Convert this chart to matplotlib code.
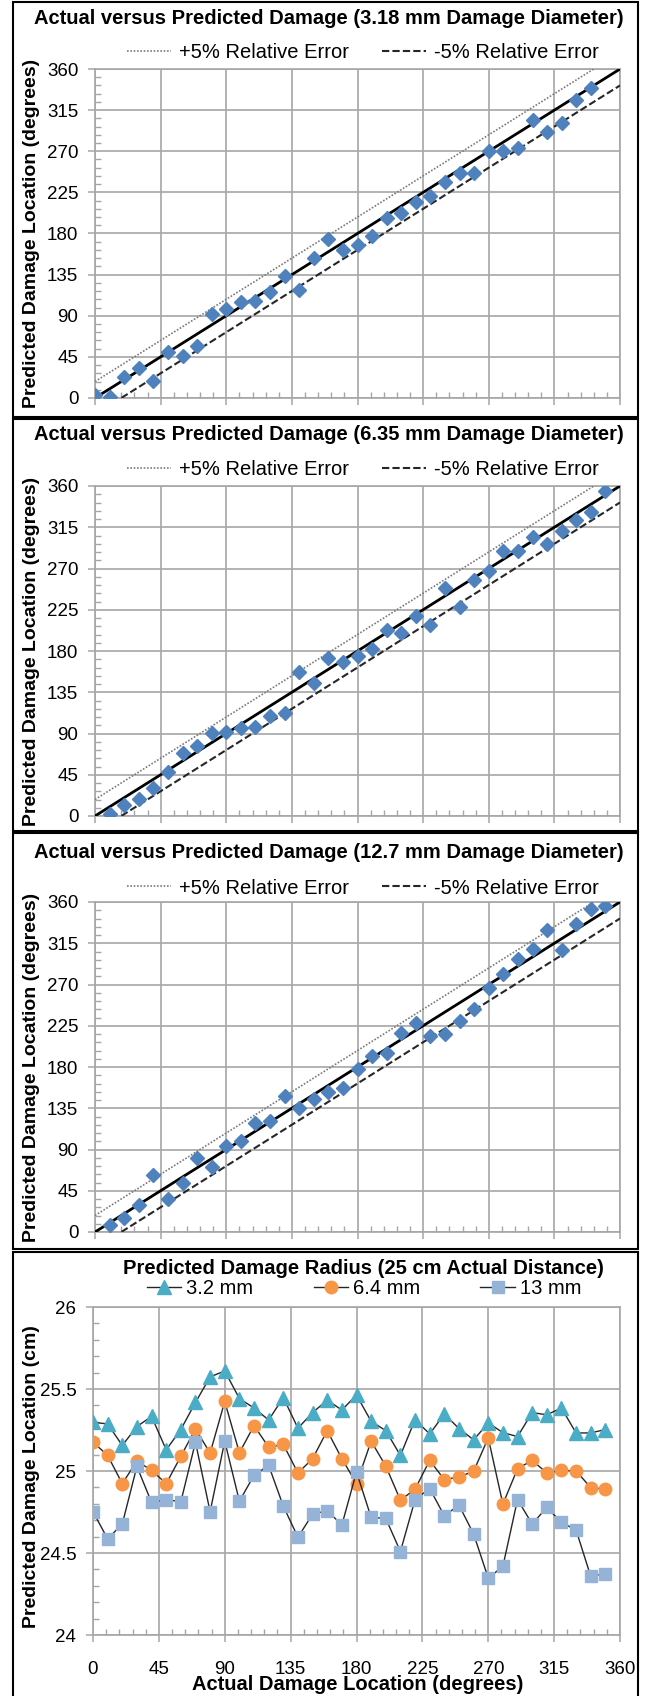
import matplotlib
matplotlib.use("Agg")
import numpy as np
import matplotlib.pyplot as plt
from matplotlib.patches import Rectangle
from matplotlib.ticker import MultipleLocator

plt.rcParams['font.family'] = ['Liberation Sans', 'DejaVu Sans']

# ---- data ----
loc_a = [0, 10, 20, 30, 40, 50, 60, 70, 80, 90, 100, 110, 120, 130, 140, 150, 160,
         170, 180, 190, 200, 210, 220, 230, 240, 250, 260, 270, 280, 290, 300, 310,
         320, 330, 340]
pred_318 = [3.3, 0.7, 22.7, 32.6, 19.0, 50.0, 46.0, 57.4, 91.8, 97.7, 104.6, 106.5,
            115.6, 134.0, 118.5, 153.3, 173.8, 161.7, 167.2, 177.8, 196.5, 202.7,
            214.4, 221.0, 236.8, 245.9, 245.9, 270.4, 270.4, 274.0, 304.0, 291.2,
            300.4, 325.6, 338.8]

loc_b = [10, 20, 30, 40, 50, 60, 70, 80, 90, 100, 110, 120, 130, 140, 150, 160, 170,
         180, 190, 200, 210, 220, 230, 240, 250, 260, 270, 280, 290, 300, 310, 320,
         330, 340, 350]
pred_635 = [1.8, 12.4, 18.6, 31.0, 48.4, 68.8, 76.4, 90.3, 91.4, 96.5, 97.2, 108.8,
            112.1, 157.3, 145.6, 172.2, 167.8, 174.4, 182.0, 203.1, 199.1, 218.4,
            208.6, 248.3, 227.5, 257.0, 266.8, 289.0, 289.0, 304.0, 296.3, 310.5,
            323.3, 331.6, 354.2]
pred_127 = [7.3, 15.7, 29.2, 62.0, 35.7, 53.9, 80.2, 70.7, 94.0, 99.5, 119.2, 120.6,
            148.7, 135.6, 144.7, 153.0, 157.4, 177.5, 192.4, 195.0, 216.8, 228.5,
            214.3, 216.5, 230.7, 243.8, 266.4, 282.0, 297.3, 309.0, 329.4, 307.1,
            336.0, 352.4, 356.0]

loc_r = [0, 10, 20, 30, 40, 50, 60, 70, 80, 90, 100, 110, 120, 130, 140, 150, 160,
         170, 180, 190, 200, 210, 220, 230, 240, 250, 260, 270, 280, 290, 300, 310,
         320, 330, 340, 350]
rad_32 = [25.297, 25.287, 25.156, 25.271, 25.333, 25.129, 25.253, 25.418, 25.574,
          25.610, 25.442, 25.384, 25.311, 25.448, 25.261, 25.356, 25.432, 25.372,
          25.463, 25.303, 25.246, 25.095, 25.313, 25.226, 25.347, 25.259, 25.190,
          25.293, 25.234, 25.210, 25.356, 25.343, 25.384, 25.232, 25.232, 25.253]
rad_64 = [25.176, 25.095, 24.923, 25.061, 25.004, 24.923, 25.089, 25.257, 25.109,
          25.424, 25.111, 25.277, 25.145, 25.162, 24.988, 25.075, 25.246, 25.075,
          24.923, 25.182, 25.030, 24.822, 24.889, 25.065, 24.947, 24.964, 24.998,
          25.202, 24.798, 25.014, 25.065, 24.988, 25.004, 25.000, 24.899, 24.889]
rad_13 = [24.752, 24.586, 24.677, 25.028, 24.808, 24.826, 24.812, 25.176, 24.752,
          25.182, 24.816, 24.974, 25.034, 24.786, 24.596, 24.737, 24.758, 24.671,
          24.994, 24.717, 24.711, 24.509, 24.826, 24.893, 24.727, 24.792, 24.616,
          24.347, 24.418, 24.826, 24.677, 24.778, 24.687, 24.640, 24.358, 24.374]

diameters = ["3.18", "6.35", "12.7"]
rel_err = 0.05  # +/- 5% of full circle

W, H = 646, 1696
GRID = "#a6a6a6"
BLUE = "#4f81bd"

fig = plt.figure(figsize=(W / 100, H / 100), dpi=100)


def box(l, t, r, b):
    return [l / W, 1 - b / H, (r - l) / W, (b - t) / H]


def style(ax, xlabels):
    ax.set_xlim(0, 360)
    ax.set_xticks(range(0, 361, 45))
    ax.xaxis.set_minor_locator(MultipleLocator(9))
    ax.grid(which="major", color=GRID, lw=1.2)
    ax.set_axisbelow(True)
    for s in ax.spines.values():
        s.set_color(GRID)
        s.set_linewidth(1.2)
    ax.tick_params(which="major", direction="out", length=5, width=1.1,
                   color=GRID, labelsize=13.5, pad=7)
    ax.tick_params(which="minor", direction="in", length=4, width=1, color=GRID)
    ax.tick_params(axis="x", labelbottom=xlabels, pad=14)


# panel frames (top, bottom) in pixels
frames = [(2, 417), (419, 831), (833, 1249), (1252, 1710)]
for t, b in frames:
    fig.patches.append(Rectangle((13 / W, 1 - b / H), 625 / W, (b - t) / H,
                                 transform=fig.transFigure, fill=False,
                                 ec="black", lw=1.5))

# ---- three actual vs predicted panels ----
panels = [(loc_a, pred_318, 69, 398, 18, 53),
          (loc_b, pred_635, 486, 816, 435, 470),
          (loc_b, pred_127, 902, 1232, 852, 888)]
ref = np.array([0, 360])
off = rel_err * 360
for (xs, ys, top, bot, ty, ly), d in zip(panels, diameters):
    ax = fig.add_axes(box(95, top, 620, bot))
    style(ax, False)
    ax.set_ylim(0, 360)
    ax.set_yticks(range(0, 361, 45))
    ax.yaxis.set_minor_locator(MultipleLocator(9))
    ax.plot(xs, ys, ls="none", marker="D", ms=7, color=BLUE, zorder=4)
    ax.plot(ref, ref, color="black", lw=2, zorder=3)
    lp, = ax.plot(ref, ref + off, color="#7a7a7a", lw=1.2, ls=(0, (1, 1)), zorder=3)
    lm, = ax.plot(ref, ref - off, color="#262626", lw=1.5, ls=(0, (3.5, 1.5)), zorder=3)
    ax.legend([lp, lm], ["+5% Relative Error", "-5% Relative Error"], ncol=2,
              loc="center", bbox_to_anchor=(363 / W, 1 - ly / H),
              bbox_transform=fig.transFigure, frameon=False, fontsize=14.5,
              handlelength=2.2, handletextpad=0.4, columnspacing=1.6)
    fig.text(329 / W, 1 - ty / H,
             f"Actual versus Predicted Damage ({d} mm Damage Diameter)",
             ha="center", va="center", fontsize=14.5, fontweight="bold")
    fig.text(32 / W, 1 - (top + bot) / 2 / H, "Predicted Damage Location (degrees)",
             rotation=90, ha="center", va="center", fontsize=14, fontweight="bold")

# ---- radius panel ----
ax = fig.add_axes(box(93, 1307, 620, 1635))
style(ax, True)
ax.set_ylim(24, 26)
ax.set_yticks([24, 24.5, 25, 25.5, 26])
ax.set_yticklabels(["24", "24.5", "25", "25.5", "26"])
ax.yaxis.set_minor_locator(MultipleLocator(0.1))
h1, = ax.plot(loc_r, rad_32, color="#262626", lw=1, marker="^", ms=9.5,
              mfc="#4bacc6", mec="#4bacc6", label="3.2 mm", zorder=4)
h2, = ax.plot(loc_r, rad_64, color="#262626", lw=1, marker="o", ms=9,
              mfc="#f79646", mec="#f79646", label="6.4 mm", zorder=4)
h3, = ax.plot(loc_r, rad_13, color="#262626", lw=1, marker="s", ms=8,
              mfc="#95b3d7", mec="#95b3d7", label="13 mm", zorder=4)
ax.legend(handles=[h1, h2, h3], ncol=3, loc="center",
          bbox_to_anchor=(364 / W, 1 - 1289 / H), bbox_transform=fig.transFigure,
          frameon=False, fontsize=14.5, handlelength=1.7, handletextpad=0.25,
          columnspacing=3)
fig.text(363 / W, 1 - 1268 / H, "Predicted Damage Radius (25 cm Actual Distance)",
         ha="center", va="center", fontsize=14.5, fontweight="bold")
fig.text(32 / W, 1 - 1477 / H, "Predicted Damage Location (cm)", rotation=90,
         ha="center", va="center", fontsize=14, fontweight="bold")
fig.text(358 / W, 1 - 1685 / H, "Actual Damage Location (degrees)",
         ha="center", va="center", fontsize=14.5, fontweight="bold")

fig.savefig("out.png", dpi=100)
